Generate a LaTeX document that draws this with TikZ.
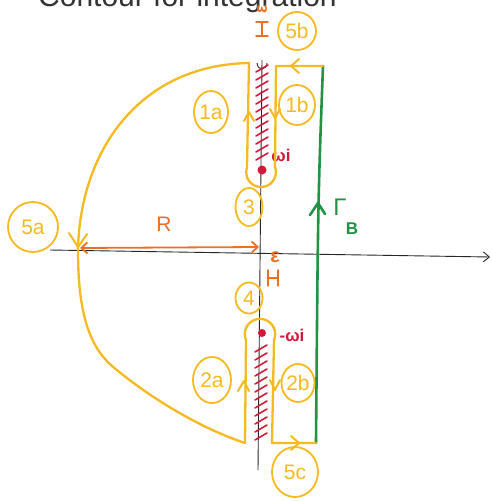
\documentclass[tikz,border=0pt]{standalone}
\usepackage{fontspec}
\setmainfont{Liberation Sans}
\usetikzlibrary{arrows.meta,shapes.geometric}
\definecolor{cyel}{RGB}{244,186,32}
\definecolor{corg}{RGB}{236,112,36}
\definecolor{cred}{RGB}{212,24,58}
\definecolor{cgrn}{RGB}{34,146,68}
\begin{document}
\begin{tikzpicture}[x=1pt,y=-1pt,
  contour/.style={cyel, line width=2.3pt, line cap=round, line join=round},
  chev/.style={cyel, line width=2pt, line cap=round, line join=round},
  tag/.style={draw=cyel, line width=1.8pt, ellipse, text=cyel, inner sep=0pt,
    font=\fontsize{21}{21}\selectfont},
  axis/.style={black!85, line width=0.9pt},
  hatch/.style={cred, line width=1.6pt, line cap=round},
  orng/.style={corg, line width=1.8pt, line cap=round},
  grn/.style={cgrn, line width=2.6pt, line cap=round, line join=round}]
\useasboundingbox (0,0) rectangle (492,501);
\clip (0,0) rectangle (492,501);
\fill[white] (0,0) rectangle (492,501);

% title (cut off at the top)
\node[anchor=base west, font=\fontsize{30}{30}\selectfont, text=black!80, inner sep=0pt] (title) at (38,6) {Contour for integration};

% axes
\draw[axis, -{Straight Barb[length=6pt,width=10pt]}] (50,250) -- (490,257);
\draw[axis] (262,60) -- (258,470);
\draw[axis] (257,63) arc[start angle=180, end angle=360, x radius=5, y radius=-6];

% branch cuts (red hatching)
\foreach \y in {68,76,...,160} {
  \draw[hatch] (256,\y+4) -- (268,\y-3);
}
\foreach \y in {348,356,...,438} {
  \draw[hatch] (255,\y+4) -- (267,\y-3);
}
\fill[cred] (262,170) circle (4.5);
\fill[cred] (262,333) circle (4);
\node[text=cred, font=\fontsize{17}{17}\selectfont\bfseries, inner sep=0pt] (wi) at (281,155) {ωi};
\node[text=cred, font=\fontsize{17}{17}\selectfont\bfseries, inner sep=0pt] (mwi) at (292,335) {-ωi};

% green contour Gamma_B
\draw[grn] (323,66) .. controls (318,200) .. (316,443);
\draw[grn] (310,215) -- (318,203) -- (325,214);
\node[text=cgrn, font=\fontsize{24}{24}\selectfont, inner sep=0pt] (gam) at (340,207) {Γ};
\node[text=cgrn, font=\fontsize{17}{17}\selectfont\bfseries, inner sep=0pt] (gB) at (352,229) {B};

% yellow contour
\draw[contour] (323,66) -- (276,66) -- (275,167)
  arc[start angle=-20, end angle=200, radius=14.9] -- (249,63)
  .. controls (140,65) and (80,150) .. (78,250)
  .. controls (78,310) and (88,345) .. (112,366)
  .. controls (150,398) and (200,428) .. (245,443)
  -- (246,340) arc[start angle=157, end angle=383, radius=15.2]
  -- (272,443) -- (316,443);

% direction marks
\draw[chev] (244,121) -- (249,112) -- (254,121);
\draw[chev] (270,109) -- (275,118) -- (280,109);
\draw[chev] (299,59) -- (291,66) -- (299,73);
\draw[chev] (291,436) -- (299,443) -- (291,450);
\draw[chev] (69,233) -- (78,247) -- (87,234);
\draw[chev] (238,391) -- (244,381) -- (249,391);
\draw[chev] (270,380) -- (275,390) -- (280,380);

% radius R
\draw[orng, {Straight Barb[length=6pt,width=11pt]}-{Straight Barb[length=6pt,width=11pt]}] (80,248) -- (259,247);
\node[text=corg, font=\fontsize{21}{21}\selectfont] (R) at (164,224) {R};

% epsilon marks
\node[text=corg, font=\fontsize{20}{20}\selectfont\bfseries, inner sep=0pt] (eps1) at (275,257) {ε};
\draw[orng, line width=1.4pt] (268,270) -- (268,286) (278,270) -- (278,286) (268,278) -- (278,278);
\node[text=corg, rotate=90, font=\fontsize{18}{18}\selectfont\bfseries, inner sep=0pt] (eps2) at (262,9) {ε};
\draw[orng, line width=1.4pt] (256,22) -- (268,22) (256,36) -- (268,36) (262,22) -- (262,36);

% labels
\node[tag, minimum width=38pt, minimum height=38pt] (t5b) at (297,31) {5b};
\node[tag, minimum width=34pt, minimum height=42pt] (t1a) at (211,112) {1a};
\node[tag, minimum width=36pt, minimum height=40pt] (t1b) at (297,105) {1b};
\node[tag, minimum width=27pt, minimum height=38pt] (t3) at (249,207) {3};
\node[tag, minimum width=50pt, minimum height=50pt] (t5a) at (33,227) {5a};
\node[tag, minimum width=27pt, minimum height=31pt] (t4) at (249,298) {4};
\node[tag, minimum width=38pt, minimum height=46pt] (t2a) at (212,380) {2a};
\node[tag, minimum width=32pt, minimum height=38pt] (t2b) at (298,383) {2b};
\node[tag, minimum width=46pt, minimum height=50pt] (t5c) at (295,472) {5c};
\end{tikzpicture}
\end{document}
